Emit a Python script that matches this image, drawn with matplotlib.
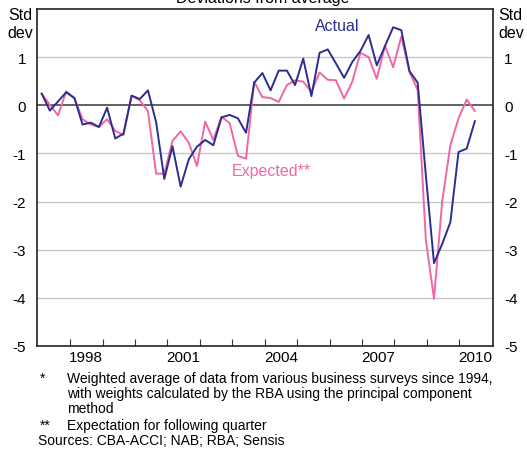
import matplotlib.pyplot as plt
import numpy as np

# Índice de confianza empresarial: desviaciones respecto a la media (trimestral, 1997T1-2010T2)
primer_trimestre = 1997.125
actual = [0.24, -0.11, 0.08, 0.27, 0.15, -0.40, -0.36, -0.45, -0.05, -0.69,
          -0.59, 0.20, 0.13, 0.31, -0.35, -1.53, -0.85, -1.69, -1.12, -0.86,
          -0.72, -0.83, -0.25, -0.20, -0.27, -0.57, 0.47, 0.67, 0.31, 0.72,
          0.72, 0.42, 0.97, 0.19, 1.09, 1.16, 0.87, 0.57, 0.90, 1.13,
          1.46, 0.83, 1.23, 1.62, 1.56, 0.71, 0.47, -1.45, -3.28, -2.88,
          -2.43, -0.97, -0.90, -0.33]
esperado = [0.24, 0.01, -0.21, 0.29, 0.15, -0.29, -0.40, -0.45, -0.29, -0.53,
            -0.62, 0.20, 0.10, -0.12, -1.42, -1.42, -0.74, -0.54, -0.78, -1.26,
            -0.34, -0.72, -0.24, -0.37, -1.05, -1.11, 0.49, 0.17, 0.15, 0.07,
            0.42, 0.52, 0.49, 0.28, 0.68, 0.53, 0.52, 0.14, 0.49, 1.09,
            1.00, 0.55, 1.24, 0.79, 1.43, 0.69, 0.32, -2.79, -4.02, -2.00,
            -0.83, -0.27, 0.12, -0.12]
trimestres = primer_trimestre + 0.252 * np.arange(len(actual))

anios_etiqueta = [1998, 2001, 2004, 2007, 2010]
y_ticks = [-5, -4, -3, -2, -1, 0, 1]

azul = '#2B2E8F'
rosa = '#F067A6'

plt.rcParams['font.family'] = ['Liberation Sans', 'DejaVu Sans']

fig = plt.figure(figsize=(5.27, 4.52), dpi=100)
ax = fig.add_axes([37 / 527, 1 - 347 / 452, 456 / 527, 337 / 452])

# Rejilla horizontal y línea de cero
for y in y_ticks:
    if y == 0:
        ax.axhline(0, color='#555555', linewidth=1.3, zorder=1)
    elif y > -5:
        ax.axhline(y, color='#C8C8C8', linewidth=1.0, zorder=0)

ax.plot(trimestres, esperado, color=rosa, linewidth=1.4, zorder=3)
ax.plot(trimestres, actual, color=azul, linewidth=1.4, zorder=4)

ax.set_xlim(1996.98, 2011.04)
ax.set_ylim(-5, 2)

# Marcas de año hacia dentro y etiquetas centradas en cada año
ax.set_xticks(np.arange(1998, 2011))
ax.set_xticklabels([])
ax.set_xticks([a + 0.5 for a in anios_etiqueta], minor=True)
ax.set_xticklabels([str(a) for a in anios_etiqueta], minor=True, fontsize=11)
ax.tick_params(axis='x', which='major', direction='in', length=5, width=0.8, color='#333333')
ax.tick_params(axis='x', which='minor', length=0, pad=3)

ax.set_yticks(y_ticks)
ax.set_yticklabels([str(v) for v in y_ticks], fontsize=11)
ax.tick_params(axis='y', length=0, pad=8, labelleft=True, labelright=True)

for lado in ['left', 'right', 'top', 'bottom']:
    ax.spines[lado].set_linewidth(1.2)
    ax.spines[lado].set_color('#222222')

ax.text(2006.23, 1.65, 'Actual', color=azul, fontsize=11.5, ha='center', va='center')
ax.text(2004.2, -1.35, 'Expected**', color=rosa, fontsize=11.5, ha='center', va='center')

# Título (cortado en el borde superior), unidades y notas
fig.text(263 / 527, 1 - 2.5 / 452, 'Deviations from average', fontsize=11.5,
         ha='center', va='baseline')
fig.text(20 / 527, 1 - 15 / 452, 'Std', fontsize=11.5, ha='center', va='center')
fig.text(20 / 527, 1 - 33 / 452, 'dev', fontsize=11.5, ha='center', va='center')
fig.text(498 / 527, 1 - 15 / 452, 'Std', fontsize=11.5, ha='left', va='center')
fig.text(498 / 527, 1 - 33 / 452, 'dev', fontsize=11.5, ha='left', va='center')

notas = [
    (40, 67, 383, '*', 'Weighted average of data from various business surveys since 1994,'),
    (40, 67, 398, '', 'with weights calculated by the RBA using the principal component'),
    (40, 67, 413, '', 'method'),
    (40, 67, 430, '**', 'Expectation for following quarter'),
]
for x_marca, x_texto, y_base, marca, texto in notas:
    if marca:
        fig.text(x_marca / 527, 1 - y_base / 452, marca, fontsize=10, va='baseline')
    fig.text(x_texto / 527, 1 - y_base / 452, texto, fontsize=10, va='baseline')
fig.text(38 / 527, 1 - 445 / 452, 'Sources: CBA-ACCI; NAB; RBA; Sensis', fontsize=10, va='baseline')

fig.savefig('out.png', dpi=100)
plt.close(fig)
